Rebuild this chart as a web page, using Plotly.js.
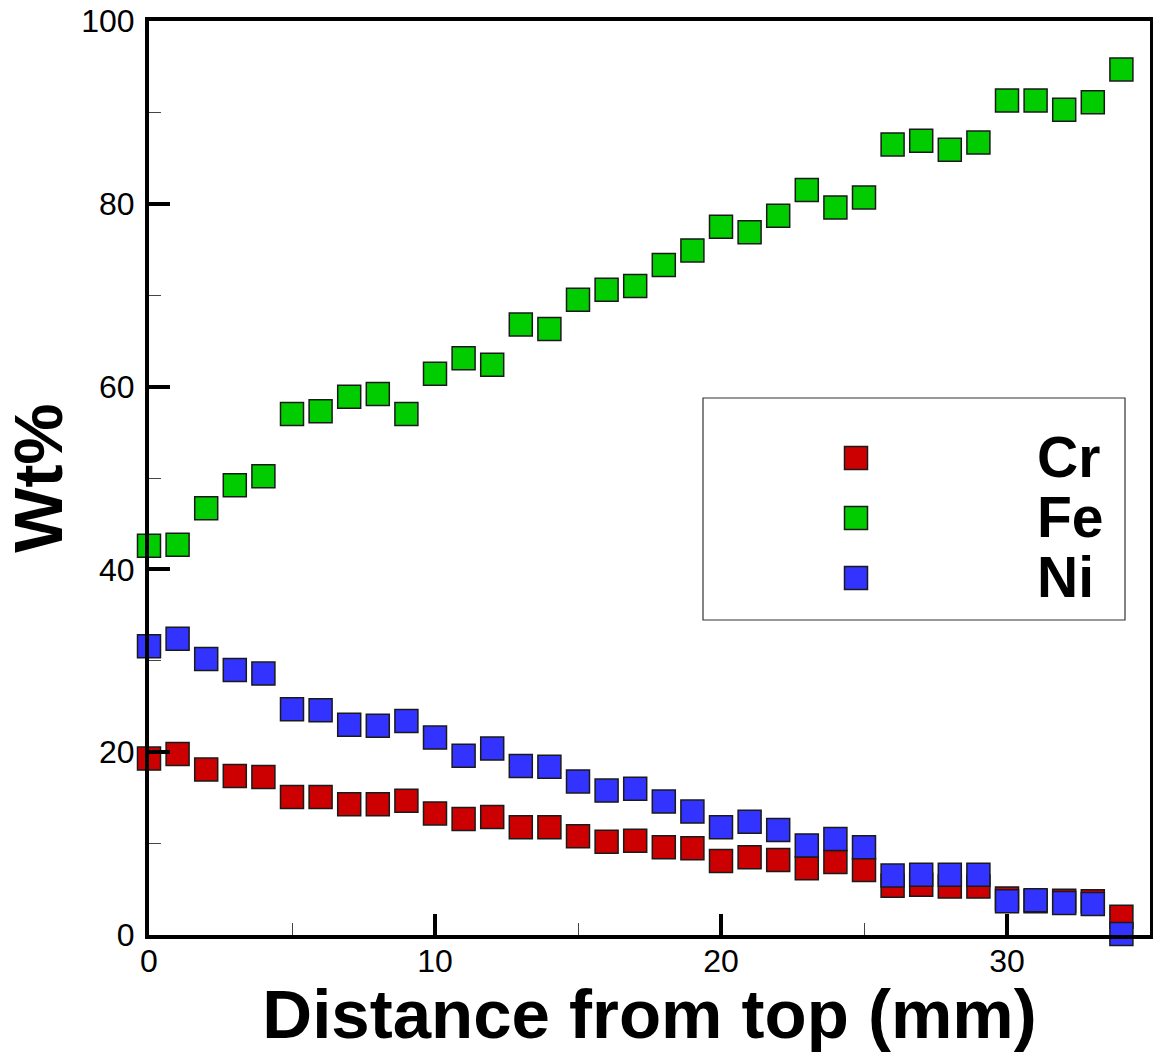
<!DOCTYPE html>
<html>
<head>
<meta charset="utf-8">
<script src="https://cdn.plot.ly/plotly-3.0.1.min.js"></script>
<style>html,body{margin:0;padding:0;background:#fff;}#chart{width:1153px;height:1053px;}</style>
</head>
<body>
<div id="chart"></div>
<script>
// ---- data ----
const distance = [0,1,2,3,4,5,6,7,8,9,10,11,12,13,14,15,16,17,18,19,20,21,22,23,24,25,26,27,28,29,30,31,32,33,34];
const cr = [19.3,19.8,18.1,17.4,17.3,15.1,15.1,14.3,14.3,14.7,13.3,12.7,12.9,11.8,11.8,10.8,10.2,10.3,9.6,9.5,8.1,8.5,8.2,7.3,8.0,7.1,5.4,5.5,5.3,5.3,4.0,3.7,3.75,3.7,2.0];
const fe = [42.6,42.7,46.7,49.2,50.2,57.0,57.3,58.9,59.2,57.0,61.4,63.1,62.4,66.8,66.3,69.5,70.6,71.0,73.3,74.9,77.5,76.9,78.7,81.5,79.6,80.7,86.5,86.9,85.9,86.7,91.3,91.3,90.3,91.1,94.7];
const ni = [31.6,32.4,30.2,29.0,28.6,24.7,24.6,23.0,22.9,23.4,21.6,19.6,20.4,18.5,18.4,16.8,15.8,16.0,14.6,13.5,11.8,12.4,11.5,9.8,10.5,9.6,6.5,6.6,6.6,6.6,3.7,3.8,3.5,3.4,0.1];
const seriesNames = ['Cr','Fe','Ni'];
const seriesColors = ['#cc0000','#00cc00','#3333ff'];
const seriesValues = [cr, fe, ni];
const xTitle = 'Distance from top (mm)';
const yTitle = 'Wt%';

// ---- layout geometry ----
const W = 1153, H = 1053;
const M = {l:149, r:3, t:21, b:118};
const PW = W - M.l - M.r, PH = H - M.t - M.b;
const px2x = px => (px - M.l) / PW;
const py2y = py => (H - M.b - py) / PH;

const traces = seriesNames.map((n, i) => ({
  type: 'scatter', mode: 'markers', name: n,
  x: distance, y: seriesValues[i], cliponaxis: false,
  marker: {symbol: 'square', size: 23, color: seriesColors[i], line: {color: '#1a1a1a', width: 1.5}},
  showlegend: false, hoverinfo: 'x+y+name'
}));

// manual legend (box + swatches + labels)
const legBox = {x0: 703, x1: 1125, y0: 398, y1: 620};
const legSwX = 856, legTxtX = 1035, legRow0 = 458, legRowGap = 60, sw = 23;
const shapes = [{
  type: 'rect', xref: 'paper', yref: 'paper',
  x0: px2x(legBox.x0), x1: px2x(legBox.x1), y0: py2y(legBox.y1), y1: py2y(legBox.y0),
  line: {color: '#333', width: 1.2}, fillcolor: '#fff', layer: 'below'
}];
const annotations = [];
seriesNames.forEach((n, i) => {
  const cy = legRow0 + i * legRowGap;
  shapes.push({
    type: 'rect', xref: 'paper', yref: 'paper',
    x0: px2x(legSwX - sw/2), x1: px2x(legSwX + sw/2), y0: py2y(cy + sw/2), y1: py2y(cy - sw/2),
    fillcolor: seriesColors[i], line: {color: '#1a1a1a', width: 1.5}, layer: 'above'
  });
  annotations.push({
    xref: 'paper', yref: 'paper', x: px2x(legTxtX), y: py2y(cy - 1),
    xanchor: 'left', yanchor: 'middle', showarrow: false, text: n,
    font: {family: 'Liberation Sans, Arial, sans-serif', size: 57, color: '#000', weight: 'bold'}
  });
});

const axisCommon = {
  showgrid: false, zeroline: false, showline: true, linecolor: '#000', linewidth: 4, mirror: true,
  ticks: 'inside', ticklen: 21, tickwidth: 4, tickcolor: '#000',
  tickfont: {family: 'Liberation Sans, Arial, sans-serif', size: 32, color: '#000'},
  fixedrange: true
};

const layout = {
  width: W, height: H, margin: M,
  paper_bgcolor: '#fff', plot_bgcolor: '#fff',
  showlegend: false,
  xaxis: Object.assign({}, axisCommon, {
    range: [0, 35], tick0: 0, dtick: 10,
    minor: {dtick: 5, ticks: 'inside', ticklen: 12, tickwidth: 1, tickcolor: '#444'},
    ticklabelstandoff: -5,
    title: {text: xTitle, standoff: 4, font: {family: 'Liberation Sans, Arial, sans-serif', size: 69, color: '#000', weight: 'bold'}}
  }),
  yaxis: Object.assign({}, axisCommon, {
    range: [0, 100], tick0: 0, dtick: 20,
    minor: {dtick: 10, ticks: 'inside', ticklen: 12, tickwidth: 1, tickcolor: '#444'},
    ticklabelstandoff: 4,
    title: {text: yTitle, standoff: 22, font: {family: 'Liberation Sans, Arial, sans-serif', size: 69, color: '#000', weight: 'bold'}}
  }),
  shapes: shapes,
  annotations: annotations
};

Plotly.newPlot('chart', traces, layout, {displayModeBar: false, staticPlot: true});
</script>
</body>
</html>
